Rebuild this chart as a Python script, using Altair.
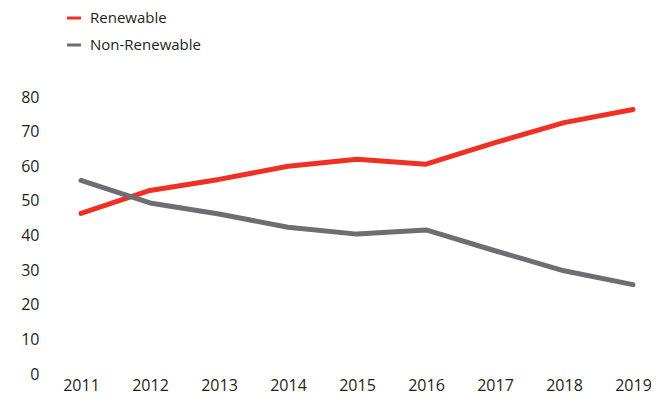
import altair as alt
import pandas as pd

years = [2011, 2012, 2013, 2014, 2015, 2016, 2017, 2018, 2019]
renewable = [46.4, 53.0, 56.2, 60.0, 62.0, 60.6, 66.8, 72.6, 76.4]
non_renewable = [55.9, 49.4, 46.2, 42.4, 40.4, 41.6, 35.6, 29.8, 25.8]
series_names = ["Renewable", "Non-Renewable"]
series_colors = ["#EE3124", "#6D6E71"]
y_ticks = [0, 10, 20, 30, 40, 50, 60, 70, 80]

rows = []
for name, vals in zip(series_names, [renewable, non_renewable]):
    for yr, v in zip(years, vals):
        rows.append({"year": yr, "value": v, "series": name})
df = pd.DataFrame(rows)

font = "Open Sans"
txt = "#231F20"

chart = alt.Chart(df).mark_line(strokeWidth=5, strokeCap="round", strokeJoin="round").encode(
    x=alt.X("year:Q", scale=alt.Scale(domain=[2011, 2019], nice=False, zero=False),
            axis=alt.Axis(values=years, format="d", title=None, domain=False, ticks=False,
                          grid=False, labelFontSize=16, labelFont=font, labelColor=txt,
                          labelPadding=3, labelFlush=False)),
    y=alt.Y("value:Q", scale=alt.Scale(domain=[0, 80], nice=False),
            axis=alt.Axis(values=y_ticks, title=None, domain=False, ticks=False, grid=False,
                          labelFontSize=16, labelFont=font, labelColor=txt, labelPadding=42)),
    color=alt.Color("series:N", scale=alt.Scale(domain=series_names, range=series_colors),
                    legend=alt.Legend(title=None, orient="none", legendX=-16, legendY=-88,
                                      symbolType="stroke", symbolStrokeWidth=3, symbolSize=200,
                                      labelFontSize=15, labelFont=font, labelColor=txt,
                                      rowPadding=10, labelOffset=7)),
    order=alt.Order("year:Q"),
).properties(
    width=552, height=277,
    autosize=alt.AutoSizeParams(type="none"),
    padding={"left": 73, "top": 89, "right": 18, "bottom": 22},
).configure_view(stroke=None)

chart.save("out.html", embed_options={"renderer": "svg", "actions": False})
